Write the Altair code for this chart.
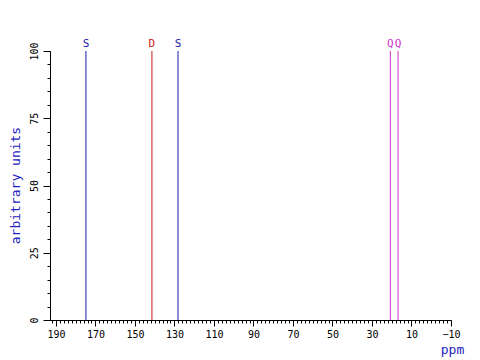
import altair as alt
import pandas as pd

# Peak data
shift_ppm = [174.8, 141.4, 128.2, 20.7, 16.8]
multiplicity = ["S", "D", "S", "Q", "Q"]
intensity = [100, 100, 100, 100, 100]
baseline = [0, 0, 0, 0, 0]

# Axis tick values
x_major = [190, 170, 150, 130, 110, 90, 70, 50, 30, 10, -10]
x_minor = list(range(192, -11, -2))
y_major = [0, 25, 50, 75, 100]
y_minor = list(range(0, 101, 5))

mult_domain = ["S", "D", "Q"]
mult_colors = ["#1a1aa8", "#cc1a1a", "#cc33cc"]

FONT = "DejaVu Sans Mono"
TITLE_BLUE = "#2323c0"

df = pd.DataFrame({"ppm": shift_ppm, "mult": multiplicity,
                   "height": intensity, "base": baseline})

xscale = alt.Scale(domain=[193, -10], nice=False, zero=False)
yscale = alt.Scale(domain=[0, 100], nice=False)
color = alt.Color("mult:N", scale=alt.Scale(domain=mult_domain, range=mult_colors), legend=None)

x_axis_main = alt.Axis(values=x_major, tickSize=6, labelFont=FONT, labelFontSize=10,
                       labelPadding=3, title="ppm", titleFont=FONT, titleFontSize=13,
                       titleFontWeight="normal", titleColor=TITLE_BLUE, titleX=402, titleY=29,
                       titleAlign="center", titleBaseline="middle", orient="bottom",
                       labelFlush=False, labelOverlap=False)
y_axis_main = alt.Axis(values=y_major, tickSize=7, labelFont=FONT, labelFontSize=10,
                       labelAngle=270, labelAlign="center", labelBaseline="bottom",
                       labelPadding=4, title="arbitrary units", titleFont=FONT,
                       titleFontSize=13, titleFontWeight="normal", titleColor=TITLE_BLUE,
                       titleAngle=270, titleX=-35, titleY=134, titleAlign="center",
                       titleBaseline="middle", orient="left", labelFlush=False)

x_axis_minor = alt.Axis(values=x_minor, tickSize=3, labels=False, domain=False,
                        title=None, orient="bottom")
y_axis_minor = alt.Axis(values=y_minor, tickSize=3, labels=False, domain=False,
                        title=None, orient="left")

rules = alt.Chart(df).mark_rule(strokeWidth=1).encode(
    x=alt.X("ppm:Q", scale=xscale, axis=x_axis_main),
    y=alt.Y("base:Q", scale=yscale, axis=y_axis_main),
    y2="height:Q",
    color=color,
)

minor = alt.Chart(df).mark_point(opacity=0).encode(
    x=alt.X("ppm:Q", scale=xscale, axis=x_axis_minor),
    y=alt.Y("height:Q", scale=yscale, axis=y_axis_minor),
)

labels = alt.Chart(df).mark_text(baseline="bottom", dy=-2, fontSize=11, font=FONT).encode(
    x=alt.X("ppm:Q", scale=xscale, axis=None),
    y=alt.Y("height:Q", scale=yscale, axis=None),
    text="mult:N",
    color=color,
)

chart = alt.layer(rules, minor, labels).resolve_axis(x="independent", y="independent").properties(
    width=401, height=269,
    padding={"left": 50, "top": 51, "right": 29, "bottom": 40},
    autosize="none",
    background="white",
).configure_view(stroke=None).configure_axis(
    grid=False, domainColor="black", tickColor="black", labelColor="black",
    domainWidth=1, tickWidth=1,
)

chart.save("out.html", embed_options={"renderer": "svg", "actions": False})
